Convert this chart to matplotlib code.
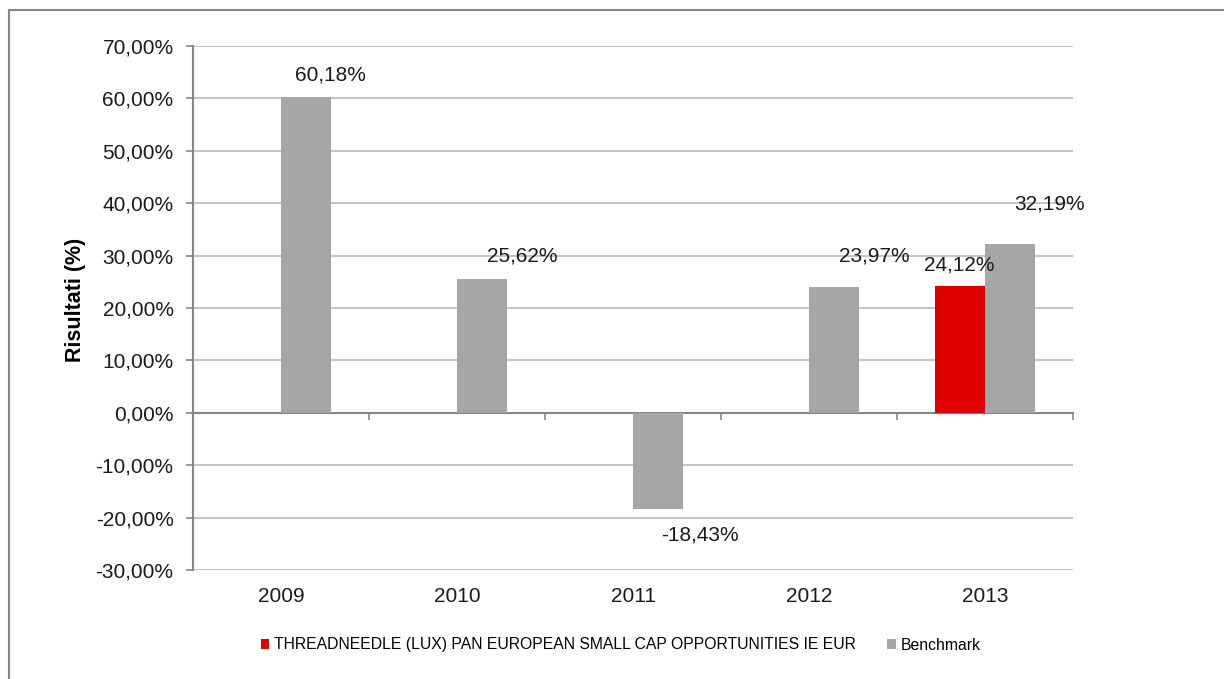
import matplotlib
matplotlib.use("Agg")
import matplotlib.pyplot as plt
import numpy as np
from matplotlib.lines import Line2D

plt.rcParams["font.family"] = ["Liberation Sans", "DejaVu Sans"]

years = ["2009", "2010", "2011", "2012", "2013"]
fund = [np.nan, np.nan, np.nan, np.nan, 24.12]
benchmark = [60.18, 25.62, -18.43, 23.97, 32.19]
fund_name = "THREADNEEDLE (LUX) PAN EUROPEAN SMALL CAP OPPORTUNITIES IE EUR"
yticks = np.arange(-30, 71, 10)

# label offsets in pixels (Excel placed them a bit oddly)
bench_off = [(24, 22), (40, 23), (42, -26), (40, 31), (39, 40)]
fund_off = (-1, 21)

fig = plt.figure(figsize=(12.24, 6.79), dpi=100)
ax = fig.add_axes([0.1577, 0.1605, 0.7190, 0.7718])

x = np.arange(len(years))
w = 0.284
ax.bar(x - w / 2, fund, w, color="#E00000", label=fund_name, zorder=3)
ax.bar(x + w / 2, benchmark, w, color="#A6A6A6", label="Benchmark", zorder=3)

def fmt(v):
    return f"{v:.2f}%".replace(".", ",")

for i, v in enumerate(benchmark):
    ax.annotate(fmt(v), (x[i] + w / 2, v), xytext=bench_off[i],
                textcoords="offset pixels", ha="center", va="center",
                fontsize=15, color="#1a1a1a")
for i, v in enumerate(fund):
    if not np.isnan(v):
        ax.annotate(fmt(v), (x[i] - w / 2, v), xytext=fund_off,
                    textcoords="offset pixels", ha="center", va="center",
                    fontsize=15, color="#1a1a1a")

ax.set_xlim(-0.5, len(years) - 0.5)
ax.set_ylim(-30, 70)
ax.set_yticks(yticks)
ax.set_yticklabels([fmt(v) for v in yticks], fontsize=15, color="#1a1a1a")
ax.yaxis.grid(True, color="#C4C4C4", lw=1.4, zorder=0)
ax.set_axisbelow(True)
ax.tick_params(axis="y", length=5, width=1.2, color="#868686", pad=9)

ax.spines["top"].set_visible(False)
ax.spines["right"].set_visible(False)
ax.spines["left"].set_color("#868686")
ax.spines["left"].set_linewidth(1.5)
ax.spines["bottom"].set_position(("data", 0))
ax.spines["bottom"].set_color("#868686")
ax.spines["bottom"].set_linewidth(1.5)
ax.set_xticks(np.arange(-0.5, len(years), 1.0))
ax.set_xticklabels([])
ax.tick_params(axis="x", length=5, width=1.2, color="#868686")

sec = ax.secondary_xaxis(0)
sec.set_xticks(x)
sec.set_xticklabels(years, fontsize=15, color="#1a1a1a")
sec.tick_params(length=0, pad=12)
sec.spines["bottom"].set_visible(False)

ax.set_ylabel("Risultati (%)", fontsize=15.5, fontweight="bold")
ax.yaxis.set_label_coords(-0.122, 0.515)

fig.legend(loc="center", bbox_to_anchor=(0.507, 1 - 645 / 679), ncol=2,
           frameon=False, fontsize=11.3, handlelength=0.55, handleheight=0.55,
           handletextpad=0.3, columnspacing=2.0)

# outer chart border (left and top edges visible)
fig.add_artist(Line2D([9 / 1224, 9 / 1224], [0, 1 - 10 / 679],
                      transform=fig.transFigure, color="#868686", lw=1.5))
fig.add_artist(Line2D([9 / 1224, 1], [1 - 10 / 679, 1 - 10 / 679],
                      transform=fig.transFigure, color="#868686", lw=1.5))

fig.savefig("out.png", dpi=100)
